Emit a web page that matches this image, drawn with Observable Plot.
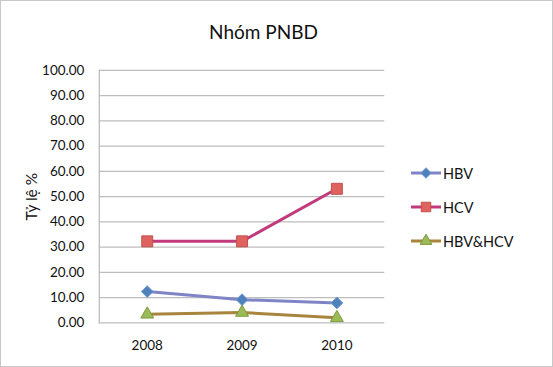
<!DOCTYPE html>
<html><head><meta charset="utf-8">
<script src="https://cdn.jsdelivr.net/npm/d3@7"></script>
<script src="https://cdn.jsdelivr.net/npm/@observablehq/plot@0.6"></script>
<style>
body{margin:0;background:#fff;}
#wrap{position:relative;width:553px;height:367px;box-sizing:border-box;border:1px solid #c8c8c8;font-family:Lato,"Open Sans",sans-serif;overflow:hidden;}
#title{position:absolute;left:0;top:19px;width:525px;text-align:center;font-size:19px;color:#111;}
#chart{position:absolute;left:-1px;top:-1px;}
#legend{position:absolute;left:409px;top:155px;font-size:14.5px;color:#111;}
.item{display:flex;align-items:center;height:34px;}
.item svg{margin-right:0px;}
</style></head>
<body>
<div id="wrap"><div id="chart"></div><div id="title">Nhóm PNBD</div><div id="legend"></div></div>
<script>
const years = ["2008","2009","2010"];
const seriesNames = ["HBV","HCV","HBV&HCV"];
const hbv = [12.4, 9.2, 7.9];
const hcv = [32.3, 32.3, 53.1];
const both = [3.4, 4.1, 2.0];
const yTicks = [0,10,20,30,40,50,60,70,80,90,100];

const lineColors = ["#7f84c6","#c23a7b","#a8843c"];
const fillColors = ["#4f81bd","#e0625e","#9bbb59"];
const strokeColors = ["#6f9bd0","#c0504d","#7f9a3c"];
const symbols = ["diamond2","square","triangle"];
const radii = [5.3,6.2,4.8];

const values = [hbv, hcv, both];
const data = [];
seriesNames.forEach((s,i)=>years.forEach((y,j)=>data.push({series:s, idx:i, year:y, value:values[i][j]})));

const chart = Plot.plot({
  width: 553, height: 367,
  marginLeft: 99, marginRight: 168, marginTop: 70, marginBottom: 44,
  style: {fontFamily: "Lato, 'Open Sans', sans-serif", fontSize: "13.5px", color: "#111", background: "transparent"},
  x: {type: "point", domain: years, padding: 0.5, label: null, tickSize: 0, tickPadding: 18},
  y: {domain: [0,100], ticks: yTicks, tickFormat: d => d.toFixed(2), label: null, tickSize: 0, tickPadding: 15},
  marks: [
    Plot.gridY(yTicks, {stroke: "#bdbdbd", strokeOpacity: 1, strokeWidth: 1.3}),
    Plot.frame({anchor: "left", stroke: "#bdbdbd", strokeWidth: 1.3}),
    Plot.text(["Tỷ lệ %"], {frameAnchor: "left", textAnchor: "middle", dx: -67, rotate: -90, fontSize: 15.5, fill: "#111"}),
    ...seriesNames.map((s,i) => Plot.line(data.filter(d=>d.idx===i), {x: "year", y: "value", stroke: lineColors[i], strokeWidth: 3})),
    ...seriesNames.map((s,i) => Plot.dot(data.filter(d=>d.idx===i), {x: "year", y: "value", symbol: symbols[i], r: radii[i], fill: fillColors[i], stroke: strokeColors[i], strokeWidth: 1}))
  ]
});
document.getElementById("chart").appendChild(chart);

const leg = document.getElementById("legend");
const symPaths = {diamond2: d3.symbol(d3.symbolDiamond2, 70)(), square: d3.symbol(d3.symbolSquare, 90)(), triangle: d3.symbol(d3.symbolTriangle, 60)()};
seriesNames.forEach((s,i)=>{
  const div = document.createElement("div");
  div.className = "item";
  div.innerHTML = `<svg width="33" height="16"><line x1="1" x2="31" y1="8" y2="8" stroke="${lineColors[i]}" stroke-width="3"/><path transform="translate(16,8)" d="${symPaths[symbols[i]]}" fill="${fillColors[i]}" stroke="${strokeColors[i]}"/></svg><span>${s}</span>`;
  leg.appendChild(div);
});
</script>
</body></html>
